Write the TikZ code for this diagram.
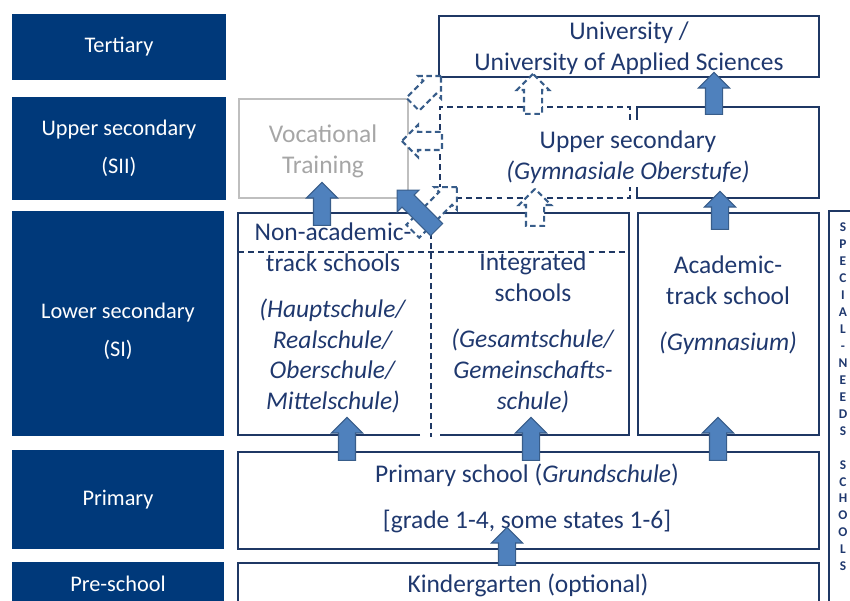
\documentclass[tikz,border=0pt]{standalone}
\usepackage{fontspec}
\setmainfont{Carlito}
\usetikzlibrary{shapes.arrows}
\definecolor{stageblue}{RGB}{0,57,122}
\definecolor{lineblue}{RGB}{31,56,100}
\definecolor{textblue}{RGB}{31,56,110}
\definecolor{arrowfill}{RGB}{79,129,189}
\definecolor{arrowline}{RGB}{56,93,138}
\definecolor{greyline}{RGB}{191,191,191}
\definecolor{greytext}{RGB}{166,166,166}

\begin{document}
\begin{tikzpicture}[x=0.02cm, y=-0.02cm,
  stagefill/.style={fill=stageblue},
  stagetext/.style={text=white, align=center, font=\fontsize{12.7}{21.5}\selectfont},
  schoolbox/.style={draw=lineblue, line width=0.9pt},
  boxtext/.style={text=textblue, align=center, font=\fontsize{14.5}{17.6}\selectfont},
  dashline/.style={draw=lineblue, line width=0.7pt, dash pattern=on 3.4pt off 2.3pt},
  blockarrow/.style={single arrow, minimum width=0.6cm, single arrow head extend=0.14cm, inner xsep=0pt, inner ysep=0.16cm, anchor=tail, line width=0.6pt},
  fullarrow/.style={blockarrow, draw=arrowline, fill=arrowfill},
  openarrow/.style={blockarrow, draw=arrowline, fill=white, line width=1.2pt, dash pattern=on 3.2pt off 2pt},
]
\useasboundingbox (0,0) rectangle (850,601);
\clip (0,0) rectangle (850,601);

% stages on the left
\fill[stagefill] (12,14) rectangle (226,80) node[pos=.5, stagetext] (tertiary) {Tertiary};
\fill[stagefill] (12,97) rectangle (226,200) node[pos=.5, stagetext] (uppersec) {Upper secondary\\(SII)};
\fill[stagefill] (12,211) rectangle (224,436);
\node[stagetext] (lowersec) at (118,331) {Lower secondary\\(SI)};
\fill[stagefill] (12,450) rectangle (224,549) node[pos=.5, stagetext] (primary) {Primary};
\fill[stagefill] (12,562) rectangle (224,620);
\node[stagetext] (preschool) at (118,584) {Pre-school};

% tertiary
\draw[schoolbox] (439,16) rectangle (819,77);
\node[boxtext] (univ) at (629,48) {University /\\University of Applied Sciences};

% upper secondary
\draw[greyline, line width=0.9pt] (239,99) rectangle (408,198);
\node[boxtext, text=greytext] (voc) at (323,151) {Vocational\\Training};
\draw[dashline] (630,120) -- (630,107) -- (440,107) -- (440,198) -- (630,198) -- (630,187);
\draw[schoolbox] (637,120) -- (637,107) -- (819,107) -- (819,198) -- (637,198) -- (637,187);
\node[boxtext] (gymup) at (628,157) {Upper secondary\\\textit{(Gymnasiale Oberstufe)}};

% lower secondary
\draw[schoolbox] (420,435) -- (238,435) -- (238,213) -- (629,213) -- (629,435) -- (440,435);
\draw[dashline] (238,252) -- (629,252);
\draw[dashline] (431,213) -- (431,437);
\node[boxtext] (nonacad) at (333,318) {Non-academic-\\track schools\\[0.3cm]\textit{(Hauptschule/}\\\textit{Realschule/}\\\textit{Oberschule/}\\\textit{Mittelschule)}};
\node[boxtext] (integr) at (533,333) {Integrated\\schools\\[0.3cm]\textit{(Gesamtschule/}\\\textit{Gemeinschafts-}\\\textit{schule)}};
\draw[schoolbox] (638,213) rectangle (819,435);
\node[boxtext] (acad) at (728,305) {Academic-\\track school\\[0.3cm]\textit{(Gymnasium)}};

% primary and pre-school
\draw[schoolbox] (238,452) rectangle (819,549);
\node[boxtext] (prim) at (527,498) {Primary school (\textit{Grundschule})\\[0.3cm]{[}grade 1-4, some states 1-6{]}};
\draw[schoolbox] (238,563) rectangle (819,620);
\node[boxtext] (kiga) at (528,585) {Kindergarten (optional)};

% special needs
\draw[schoolbox] (829,211) rectangle (870,620);
\node[text=textblue, align=center, font=\fontsize{7.6}{9.64}\selectfont\bfseries] (special) at (843,397)
  {S\\P\\E\\C\\I\\A\\L\\-\\N\\E\\E\\D\\S\\[9.64pt]S\\C\\H\\O\\O\\L\\S};

% optional routes
\node[openarrow, minimum height=0.8cm, rotate=45] (vocuni) at (412,105) {};
\node[openarrow, minimum height=1.25cm, rotate=45] (naup) at (412,232) {};
\node[openarrow, minimum height=0.8cm, rotate=180] (upvoc) at (443,141) {};
\node[openarrow, minimum height=0.8cm, rotate=90] (upuni) at (533,115) {};
\node[openarrow, minimum height=0.74cm, rotate=90] (intup) at (535,227) {};

% main routes
\node[fullarrow, minimum height=0.76cm, rotate=90] (kigaprim) at (507,566) {};
\node[fullarrow, minimum height=0.86cm, rotate=90] (primna) at (347,461) {};
\node[fullarrow, minimum height=0.86cm, rotate=90] (primint) at (531,461) {};
\node[fullarrow, minimum height=0.86cm, rotate=90] (primacad) at (718,461) {};
\node[fullarrow, minimum height=0.86cm, rotate=90] (navoc) at (322,226) {};
\node[fullarrow, minimum height=1.12cm, rotate=135] (intvoc) at (437,230) {};
\node[fullarrow, minimum height=0.76cm, rotate=90] (acadup) at (720,230) {};
\node[fullarrow, minimum height=0.84cm, rotate=90] (upuni2) at (714,115) {};
\end{tikzpicture}
\end{document}
